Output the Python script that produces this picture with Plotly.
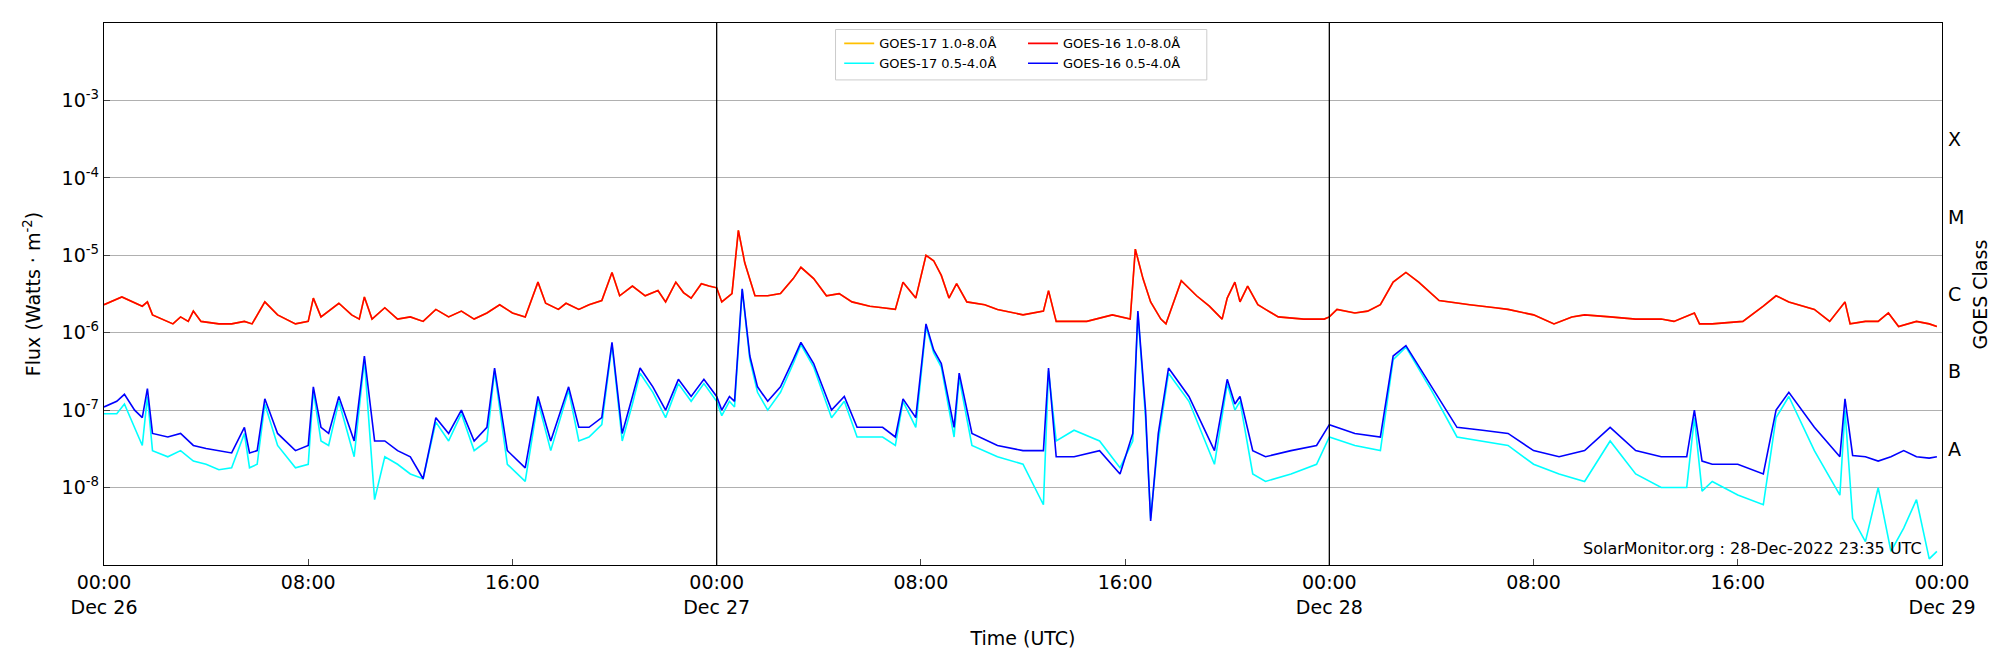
import plotly.graph_objects as go

# hours since 2022-12-26 00:00 UTC
long_h = [0,0.7,1.5,1.7,1.9,2.3,2.7,3.0,3.3,3.5,3.8,4.5,5.0,5.5,5.8,6.3,6.8,7.5,8.0,8.2,8.5,9.2,9.7,10.0,10.2,10.5,11.0,11.5,12.0,12.5,13.0,13.5,14.0,14.5,15.0,15.5,16.0,16.5,17.0,17.3,17.8,18.1,18.6,19.0,19.5,19.9,20.2,20.7,21.2,21.7,22.0,22.4,22.7,23.0,23.4,23.7,24.0,
          24.2,24.6,24.85,25.1,25.5,26.0,26.5,27.0,27.3,27.8,28.3,28.8,29.3,30.0,30.5,31.0,31.3,31.8,32.2,32.5,32.8,33.1,33.4,33.8,34.5,35.0,36.0,36.8,37.0,37.3,38.0,38.5,39.5,40.2,40.4,40.7,41.0,41.4,41.6,42.2,42.8,43.3,43.8,44.0,44.3,44.5,44.8,45.2,45.5,46.0,47.0,47.8,
          48.0,48.3,49.0,49.5,50.0,50.5,51.0,51.5,52.3,53.0,53.5,54.5,55.0,56.0,56.8,57.5,58.0,59.0,60.0,61.0,61.5,62.3,62.5,63.0,64.2,65.0,65.5,66.0,67.0,67.6,68.2,68.4,69.0,69.5,69.9,70.3,71.0,71.5,71.8]
g16_long = [2.3e-6,2.9e-6,2.2e-6,2.5e-6,1.7e-6,1.5e-6,1.3e-6,1.6e-6,1.4e-6,1.9e-6,1.4e-6,1.3e-6,1.3e-6,1.4e-6,1.3e-6,2.5e-6,1.7e-6,1.3e-6,1.4e-6,2.8e-6,1.6e-6,2.4e-6,1.7e-6,1.5e-6,2.9e-6,1.5e-6,2.1e-6,1.5e-6,1.6e-6,1.4e-6,2.0e-6,1.6e-6,1.9e-6,1.5e-6,1.8e-6,2.3e-6,1.8e-6,1.6e-6,4.5e-6,2.4e-6,2.0e-6,2.4e-6,2.0e-6,2.3e-6,2.6e-6,6.0e-6,3.0e-6,4.0e-6,3.0e-6,3.5e-6,2.5e-6,4.5e-6,3.3e-6,2.8e-6,4.3e-6,4.0e-6,3.8e-6,
            2.5e-6,3.2e-6,2.1e-5,8.0e-6,3.0e-6,3.0e-6,3.2e-6,5.0e-6,7.0e-6,5.0e-6,3.0e-6,3.2e-6,2.5e-6,2.2e-6,2.1e-6,2.0e-6,4.5e-6,2.8e-6,1.0e-5,8.5e-6,5.5e-6,2.8e-6,4.3e-6,2.5e-6,2.3e-6,2.0e-6,1.7e-6,1.9e-6,3.5e-6,1.4e-6,1.4e-6,1.4e-6,1.7e-6,1.5e-6,1.2e-5,5.0e-6,2.5e-6,1.5e-6,1.3e-6,4.7e-6,3.0e-6,2.2e-6,1.5e-6,2.8e-6,4.5e-6,2.5e-6,4.0e-6,2.3e-6,2.0e-6,1.6e-6,1.5e-6,1.5e-6,
            1.6e-6,2.0e-6,1.8e-6,1.9e-6,2.3e-6,4.5e-6,6.0e-6,4.5e-6,2.6e-6,2.4e-6,2.3e-6,2.1e-6,2.0e-6,1.7e-6,1.3e-6,1.6e-6,1.7e-6,1.6e-6,1.5e-6,1.5e-6,1.4e-6,1.8e-6,1.3e-6,1.3e-6,1.4e-6,2.2e-6,3.0e-6,2.5e-6,2.0e-6,1.4e-6,2.5e-6,1.3e-6,1.4e-6,1.4e-6,1.8e-6,1.2e-6,1.4e-6,1.3e-6,1.2e-6]
# GOES-17 long channel reads identical to GOES-16 at this scale
g17_long = [2.3e-6,2.9e-6,2.2e-6,2.5e-6,1.7e-6,1.5e-6,1.3e-6,1.6e-6,1.4e-6,1.9e-6,1.4e-6,1.3e-6,1.3e-6,1.4e-6,1.3e-6,2.5e-6,1.7e-6,1.3e-6,1.4e-6,2.8e-6,1.6e-6,2.4e-6,1.7e-6,1.5e-6,2.9e-6,1.5e-6,2.1e-6,1.5e-6,1.6e-6,1.4e-6,2.0e-6,1.6e-6,1.9e-6,1.5e-6,1.8e-6,2.3e-6,1.8e-6,1.6e-6,4.5e-6,2.4e-6,2.0e-6,2.4e-6,2.0e-6,2.3e-6,2.6e-6,6.0e-6,3.0e-6,4.0e-6,3.0e-6,3.5e-6,2.5e-6,4.5e-6,3.3e-6,2.8e-6,4.3e-6,4.0e-6,3.8e-6,
            2.5e-6,3.2e-6,2.1e-5,8.0e-6,3.0e-6,3.0e-6,3.2e-6,5.0e-6,7.0e-6,5.0e-6,3.0e-6,3.2e-6,2.5e-6,2.2e-6,2.1e-6,2.0e-6,4.5e-6,2.8e-6,1.0e-5,8.5e-6,5.5e-6,2.8e-6,4.3e-6,2.5e-6,2.3e-6,2.0e-6,1.7e-6,1.9e-6,3.5e-6,1.4e-6,1.4e-6,1.4e-6,1.7e-6,1.5e-6,1.2e-5,5.0e-6,2.5e-6,1.5e-6,1.3e-6,4.7e-6,3.0e-6,2.2e-6,1.5e-6,2.8e-6,4.5e-6,2.5e-6,4.0e-6,2.3e-6,2.0e-6,1.6e-6,1.5e-6,1.5e-6,
            1.6e-6,2.0e-6,1.8e-6,1.9e-6,2.3e-6,4.5e-6,6.0e-6,4.5e-6,2.6e-6,2.4e-6,2.3e-6,2.1e-6,2.0e-6,1.7e-6,1.3e-6,1.6e-6,1.7e-6,1.6e-6,1.5e-6,1.5e-6,1.4e-6,1.8e-6,1.3e-6,1.3e-6,1.4e-6,2.2e-6,3.0e-6,2.5e-6,2.0e-6,1.4e-6,2.5e-6,1.3e-6,1.4e-6,1.4e-6,1.8e-6,1.2e-6,1.4e-6,1.3e-6,1.2e-6]

short_h = [0,0.5,0.8,1.2,1.5,1.7,1.9,2.5,3.0,3.5,4.0,4.5,5.0,5.5,5.7,6.0,6.3,6.8,7.5,8.0,8.2,8.5,8.8,9.2,9.8,10.2,10.6,11.0,11.5,12.0,12.5,13.0,13.5,14.0,14.5,15.0,15.3,15.8,16.5,17.0,17.5,18.2,18.6,19.0,19.5,19.9,20.3,20.7,21.0,21.5,22.0,22.5,23.0,23.5,24.0,
           24.2,24.5,24.7,25.0,25.3,25.6,26.0,26.5,27.0,27.3,27.8,28.5,29.0,29.5,30.0,30.5,31.0,31.3,31.8,32.2,32.5,32.8,33.3,33.5,34.0,35.0,36.0,36.8,37.0,37.3,38.0,39.0,39.8,40.3,40.5,40.8,41.0,41.3,41.7,42.5,43.5,44.0,44.3,44.5,45.0,45.5,46.5,47.5,
           48.0,49.0,50.0,50.5,51.0,52.0,53.0,54.0,55.0,56.0,57.0,58.0,59.0,60.0,61.0,62.0,62.3,62.6,63.0,64.0,65.0,65.5,66.0,67.0,68.0,68.2,68.5,69.0,69.5,70.0,70.5,71.0,71.5,71.8]
g16_short = [1.1e-7,1.3e-7,1.6e-7,1.0e-7,8.0e-8,1.9e-7,5.0e-8,4.5e-8,5.0e-8,3.5e-8,3.2e-8,3.0e-8,2.8e-8,6.0e-8,2.8e-8,3.0e-8,1.4e-7,5.0e-8,3.0e-8,3.5e-8,2.0e-7,6.0e-8,5.0e-8,1.5e-7,4.0e-8,5.0e-7,4.0e-8,4.0e-8,3.0e-8,2.5e-8,1.3e-8,8.0e-8,5.0e-8,1.0e-7,4.0e-8,6.0e-8,3.5e-7,3.0e-8,1.8e-8,1.5e-7,4.0e-8,2.0e-7,6.0e-8,6.0e-8,8.0e-8,7.5e-7,5.0e-8,1.5e-7,3.5e-7,2.0e-7,1.0e-7,2.5e-7,1.5e-7,2.5e-7,1.5e-7,
             1.0e-7,1.5e-7,1.3e-7,3.7e-6,5.0e-7,2.0e-7,1.3e-7,2.0e-7,4.5e-7,7.5e-7,4.0e-7,1.0e-7,1.5e-7,6.0e-8,6.0e-8,6.0e-8,4.5e-8,1.4e-7,8.0e-8,1.3e-6,6.0e-7,4.0e-7,6.0e-8,3.0e-7,5.0e-8,3.5e-8,3.0e-8,3.0e-8,3.5e-7,2.5e-8,2.5e-8,3.0e-8,1.5e-8,5.0e-8,1.9e-6,1.0e-7,3.7e-9,5.0e-8,3.5e-7,1.5e-7,3.0e-8,2.5e-7,1.2e-7,1.5e-7,3.0e-8,2.5e-8,3.0e-8,3.5e-8,
             6.5e-8,5.0e-8,4.5e-8,5.0e-7,6.8e-7,2.0e-7,6.0e-8,5.5e-8,5.0e-8,3.0e-8,2.5e-8,3.0e-8,6.0e-8,3.0e-8,2.5e-8,2.5e-8,1.0e-7,2.2e-8,2.0e-8,2.0e-8,1.5e-8,1.0e-7,1.7e-7,6.0e-8,2.5e-8,1.4e-7,2.6e-8,2.5e-8,2.2e-8,2.5e-8,3.0e-8,2.5e-8,2.4e-8,2.5e-8]
g17_short = [9.0e-8,9.0e-8,1.2e-7,6.0e-8,3.5e-8,1.5e-7,3.0e-8,2.5e-8,3.0e-8,2.2e-8,2.0e-8,1.7e-8,1.8e-8,5.0e-8,1.8e-8,2.0e-8,1.2e-7,3.5e-8,1.8e-8,2.0e-8,1.8e-7,4.0e-8,3.5e-8,1.3e-7,2.5e-8,4.5e-7,7.0e-9,2.5e-8,2.0e-8,1.5e-8,1.3e-8,7.0e-8,4.0e-8,9.0e-8,3.0e-8,4.0e-8,3.2e-7,2.0e-8,1.2e-8,1.3e-7,3.0e-8,1.8e-7,4.0e-8,4.5e-8,6.5e-8,7.0e-7,4.0e-8,1.2e-7,3.0e-7,1.7e-7,8.0e-8,2.2e-7,1.3e-7,2.2e-7,1.3e-7,
             8.5e-8,1.3e-7,1.1e-7,3.6e-6,4.5e-7,1.7e-7,1.0e-7,1.7e-7,4.0e-7,7.0e-7,3.6e-7,8.0e-8,1.3e-7,4.5e-8,4.5e-8,4.5e-8,3.5e-8,1.3e-7,6.0e-8,1.2e-6,5.5e-7,3.6e-7,4.5e-8,2.6e-7,3.5e-8,2.5e-8,2.0e-8,6.0e-9,3.2e-7,4.0e-8,5.5e-8,4.0e-8,1.8e-8,4.0e-8,1.8e-6,8.0e-8,4.0e-9,4.0e-8,3.0e-7,1.3e-7,2.0e-8,2.2e-7,1.0e-7,1.3e-7,1.5e-8,1.2e-8,1.5e-8,2.0e-8,
             4.5e-8,3.5e-8,3.0e-8,4.5e-7,6.5e-7,1.8e-7,4.5e-8,4.0e-8,3.5e-8,2.0e-8,1.5e-8,1.2e-8,4.0e-8,1.5e-8,1.0e-8,1.0e-8,8.0e-8,9.0e-9,1.2e-8,8.0e-9,6.0e-9,8.0e-8,1.5e-7,3.0e-8,8.0e-9,1.0e-7,4.0e-9,2.0e-9,1.0e-8,1.5e-9,3.0e-9,7.0e-9,1.2e-9,1.5e-9]

tick_vals = [0, 8, 16, 24, 32, 40, 48, 56, 64, 72]
tick_text = ["00:00<br>Dec 26", "08:00", "16:00", "00:00<br>Dec 27", "08:00", "16:00",
             "00:00<br>Dec 28", "08:00", "16:00", "00:00<br>Dec 29"]
class_labels = ["A", "B", "C", "M", "X"]
class_pos = [-7.5, -6.5, -5.5, -4.5, -3.5]

fig = go.Figure()
fig.add_trace(go.Scatter(x=long_h, y=g17_long, mode="lines", name="GOES-17 1.0-8.0Å",
                         line=dict(color="#FFC000", width=1.6), legend="legend"))
fig.add_trace(go.Scatter(x=short_h, y=g17_short, mode="lines", name="GOES-17 0.5-4.0Å",
                         line=dict(color="cyan", width=1.6), legend="legend"))
fig.add_trace(go.Scatter(x=long_h, y=g16_long, mode="lines", name="GOES-16 1.0-8.0Å",
                         line=dict(color="red", width=1.6), legend="legend2"))
fig.add_trace(go.Scatter(x=short_h, y=g16_short, mode="lines", name="GOES-16 0.5-4.0Å",
                         line=dict(color="blue", width=1.6), legend="legend2"))

for d in [24, 48]:
    fig.add_vline(x=d, line=dict(color="black", width=1.3))

# legend frame
fig.add_shape(type="rect", xref="paper", yref="paper", x0=0.398, x1=0.6, y0=0.895, y1=0.988,
              line=dict(color="#cccccc", width=1), fillcolor="white", layer="above")

for lab, pos in zip(class_labels, class_pos):
    fig.add_annotation(x=1.0, xref="paper", y=pos, yref="y", text=lab, showarrow=False,
                       xanchor="left", xshift=4, font=dict(size=19, color="black"))
fig.add_annotation(x=1.028, xref="paper", y=0.5, yref="paper", text="GOES Class", textangle=-90,
                   showarrow=False, font=dict(size=19, color="black"))
fig.add_annotation(x=0.99, xref="paper", y=0.01, yref="paper", text="SolarMonitor.org : 28-Dec-2022 23:35 UTC",
                   showarrow=False, xanchor="right", yanchor="bottom", font=dict(size=16, color="black"))

leg_common = dict(orientation="v", yanchor="top", y=0.99, bgcolor="rgba(0,0,0,0)",
                  borderwidth=0, font=dict(size=13), tracegroupgap=0)
fig.update_layout(
    width=2000, height=650, plot_bgcolor="white", paper_bgcolor="white",
    margin=dict(l=96, r=66, t=15, b=88),
    font=dict(family="DejaVu Sans", color="black"),
    legend=dict(x=0.4, xanchor="left", **leg_common),
    legend2=dict(x=0.5, xanchor="left", **leg_common),
)
fig.update_xaxes(range=[0, 72], tickvals=tick_vals, ticktext=tick_text, ticks="inside", ticklen=6,
                 showline=True, linecolor="black", linewidth=1.3, mirror=True, showgrid=False,
                 tickfont=dict(size=19), title=dict(text="Time (UTC)", font=dict(size=19)))
fig.update_yaxes(type="log", range=[-9, -2], tickvals=[1e-8, 1e-7, 1e-6, 1e-5, 1e-4, 1e-3],
                 ticktext=["10<sup>-8</sup>", "10<sup>-7</sup>", "10<sup>-6</sup>", "10<sup>-5</sup>", "10<sup>-4</sup>", "10<sup>-3</sup>"],
                 ticks="inside", ticklen=6, showline=True, linecolor="black", linewidth=1.3, mirror=True,
                 showgrid=True, gridcolor="#b0b0b0", gridwidth=1, zeroline=False,
                 tickfont=dict(size=19), title=dict(text="Flux (Watts · m<sup>-2</sup>)", font=dict(size=19)))
fig.write_html("out.html")
